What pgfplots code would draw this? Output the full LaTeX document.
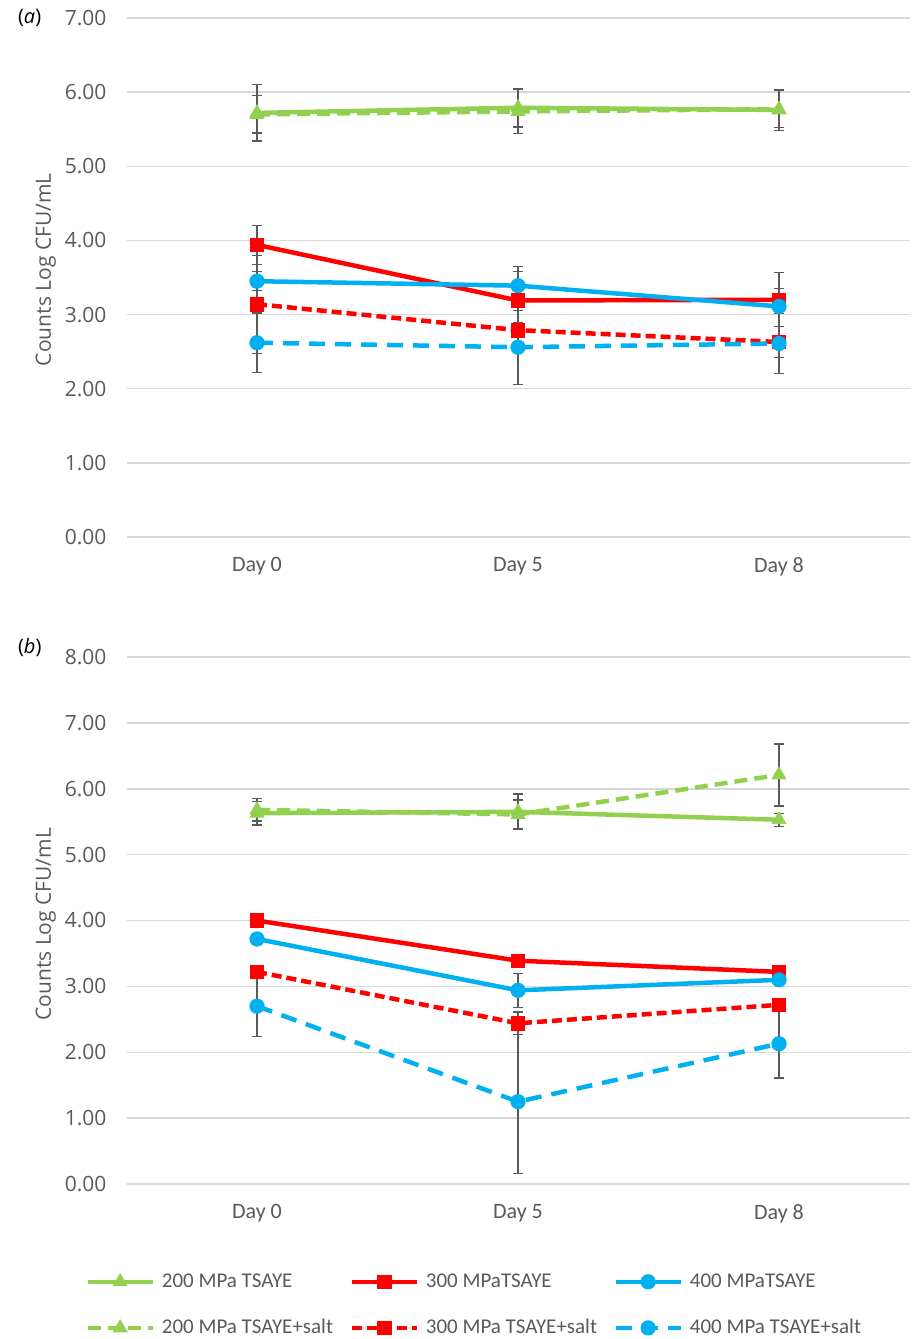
\documentclass[border=0pt]{standalone}
\usepackage{pgfplots}
\pgfplotsset{compat=1.18}
\usepackage{fontspec}
\setmainfont{Carlito}
\newfontfamily\osans{Open Sans}
\definecolor{cgreen}{HTML}{92D050}
\definecolor{cred}{HTML}{FF0000}
\definecolor{cblue}{HTML}{00B0F0}
\definecolor{tgray}{HTML}{595959}
\definecolor{egray}{HTML}{5A5A5A}
\definecolor{gridc}{HTML}{D9D9D9}

\pgfplotsset{
  panel/.style={
    scale only axis, width=391.5pt,
    xmin=-0.5, xmax=2.5, xtick={0,1,2},
    xticklabels={Day 0,Day 5,Day 8},
    ymin=0,
    ymajorgrids, major grid style={draw=gridc, line width=0.75pt},
    axis line style={draw=none},
    major tick length=0pt,
    tick style={draw=none},
    yticklabel style={font=\osans\fontsize{10.5}{12}\selectfont, text=tgray, xshift=-6.5pt},
    xticklabel style={font=\fontsize{11}{13}\selectfont, text=tgray, yshift=-6.5pt},
    yticklabel={\pgfmathprintnumber[fixed,fixed zerofill,precision=2,assume math mode=true]{\tick}},
    ylabel={Counts Log CFU/mL},
    ylabel style={font=\osans\fontsize{10.5}{12}\selectfont, text=tgray, anchor=center},
    legend image code/.code={\draw[mark repeat=2,mark phase=2,#1] plot coordinates {(0pt,0pt) (16.25pt,0pt) (32.5pt,0pt)};},
  },
  errs/.style={error bars/.cd, y dir=both, y explicit,
    error bar style={draw=egray, line width=0.6pt, solid},
    error mark options={rotate=90, draw=egray, mark size=2.4pt, line width=0.6pt, solid}},
  s200/.style={draw=cgreen, line width=2.25pt, mark=triangle*, mark size=4pt, mark options={fill=cgreen, draw=cgreen, solid, line width=0.4pt}},
  s300/.style={draw=cred, line width=2.25pt, mark=square*, mark size=3.4pt, mark options={fill=cred, draw=cred, solid, line width=0.4pt}},
  s400/.style={draw=cblue, line width=2.25pt, mark=*, mark size=3.6pt, mark options={fill=cblue, draw=cblue, solid, line width=0.4pt}},
  d200/.style={dash pattern=on 6.5pt off 3.5pt},
  d300/.style={dash pattern=on 5pt off 2.5pt},
  d400/.style={dash pattern=on 8pt off 5pt},
}

\newcommand{\lent}[1]{\makebox[97.25pt][l]{\hspace{3.5pt}#1}}

\begin{document}
\begin{tikzpicture}
\useasboundingbox (0,0) rectangle (458.5pt,-669.5pt);

\node[anchor=west, font=\osans\fontsize{10}{12}\selectfont] at (5.5pt,-9pt) {(\textit{a})};
\node[anchor=west, font=\osans\fontsize{10}{12}\selectfont] at (5.5pt,-323.5pt) {(\textit{b})};

% Panel (a)
\begin{axis}[panel, at={(63.25pt,-268.5pt)}, anchor=south west,
  height=259.5pt, ymax=7, ytick={0,1,...,7},
  ylabel style={at={(axis description cs:-0.103,0.515)}}]
\addplot[s200, errs] coordinates {(0,5.72) +- (0,0.38) (1,5.79) +- (0,0.26) (2,5.76) +- (0,0.28)};
\addplot[s300, errs] coordinates {(0,3.94) +- (0,0.26) (1,3.19) +- (0,0.39) (2,3.20) +- (0,0.15)};
\addplot[s400, errs] coordinates {(0,3.45) +- (0,0.13) (1,3.39) +- (0,0.26) (2,3.11) +- (0,0.46)};
\addplot[s200, d200, errs] coordinates {(0,5.70) +- (0,0.25) (1,5.74) +- (0,0.30) (2,5.77) +- (0,0.25)};
\addplot[s300, d300, errs] coordinates {(0,3.14) +- (0,0.66) (1,2.79) +- (0,0.10) (2,2.63) +- (0,0.21)};
\addplot[s400, d400, errs] coordinates {(0,2.62) +- (0,0.40) (1,2.56) +- (0,0.50) (2,2.61) +- (0,0.40)};
\end{axis}

% Panel (b)
\begin{axis}[panel, at={(63.25pt,-592pt)}, anchor=south west,
  height=263.5pt, ymax=8, ytick={0,1,...,8},
  ylabel style={at={(axis description cs:-0.103,0.493)}},
  legend columns=3,
  legend cell align=left,
  legend style={at={(axis description cs:-0.053,-0.169)}, anchor=north west,
    draw=none, fill=none, inner sep=0pt, row sep=14.5pt, column sep=0pt,
    font=\fontsize{10.5}{12}\selectfont, text=tgray,
    nodes={inner sep=0pt}}]
\addplot[s200, errs] coordinates {(0,5.63) +- (0,0.18) (1,5.65) +- (0,0.27) (2,5.53) +- (0,0.10)};
\addlegendentry{\lent{200 MPa TSAYE}}
\addplot[s300, errs] coordinates {(0,4.00) +- (0,0.11) (1,3.39) +- (0,0.08) (2,3.22) +- (0,0.05)};
\addlegendentry{\lent{300 MPaTSAYE}}
\addplot[s400, errs] coordinates {(0,3.72) +- (0,0.08) (1,2.94) +- (0,0.26) (2,3.10) +- (0,0.05)};
\addlegendentry{\lent{400 MPaTSAYE}}
\addplot[s200, d200, errs] coordinates {(0,5.68) +- (0,0.17) (1,5.61) +- (0,0.22) (2,6.21) +- (0,0.47)};
\addlegendentry{\lent{200 MPa TSAYE+salt}}
\addplot[s300, d300, errs] coordinates {(0,3.22) +- (0,0.10) (1,2.44) +- (0,0.17) (2,2.72) +- (0,0.05)};
\addlegendentry{\lent{300 MPa TSAYE+salt}}
\addplot[s400, d400, errs] coordinates {(0,2.70) +- (0,0.46) (1,1.25) +- (0,1.09) (2,2.13) +- (0,0.52)};
\addlegendentry{\lent{400 MPa TSAYE+salt}}
\end{axis}
\end{tikzpicture}
\end{document}
